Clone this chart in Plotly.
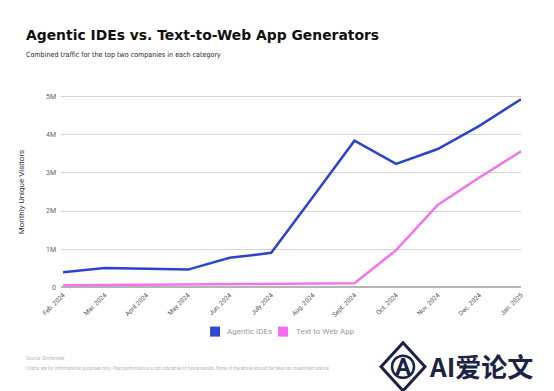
import plotly.graph_objects as go

months = ["Feb. 2024", "Mar. 2024", "April 2024", "May 2024", "Jun. 2024", "July 2024",
          "Aug. 2024", "Sept. 2024", "Oct. 2024", "Nov. 2024", "Dec. 2024", "Jan. 2025"]
agentic_ides = [0.39e6, 0.50e6, 0.48e6, 0.46e6, 0.77e6, 0.90e6,
                2.37e6, 3.85e6, 3.24e6, 3.63e6, 4.24e6, 4.94e6]
text_to_web = [0.05e6, 0.06e6, 0.06e6, 0.07e6, 0.08e6, 0.08e6,
               0.09e6, 0.10e6, 0.97e6, 2.16e6, 2.88e6, 3.57e6]
y_tickvals = [0, 1e6, 2e6, 3e6, 4e6, 5e6]
y_ticktext = ["0", "1M", "2M", "3M", "4M", "5M"]
series_names = ["Agentic IDEs", "Text to Web App"]

BLUE = "#2c44cc"
PINK = "#f075ec"
LEG_BLUE = "#3048d8"
LEG_PINK = "#f56cf0"
NAVY = "#1b2345"
W, H = 554, 391
L, R, T, B = 52.9, 513.0, 87.4, 280.6


def px(x):
    return (x - L) / (R - L)


def py(y):
    return (B - y) / (B - T)


fig = go.Figure()
fig.add_trace(go.Scatter(x=months, y=agentic_ides, mode="lines", name=series_names[0],
                         line=dict(color=BLUE, width=2.5)))
fig.add_trace(go.Scatter(x=months, y=text_to_web, mode="lines", name=series_names[1],
                         line=dict(color=PINK, width=2.5)))

fig.update_layout(
    width=W, height=H,
    margin=dict(l=L, r=W - R, t=T, b=H - B, pad=0),
    paper_bgcolor="white", plot_bgcolor="white",
    font=dict(family="Roboto", color="#555"),
    showlegend=False,
    xaxis=dict(type="category", range=[-0.05, 11.0], showgrid=False,
               tickangle=-45, tickfont=dict(size=6.5, color="#555"),
               ticks="", showline=False, zeroline=False),
    yaxis=dict(range=[-0.05e6, 5.05e6], tickvals=y_tickvals, ticktext=y_ticktext,
               showgrid=True, gridcolor="#d4d4d4", gridwidth=1, zeroline=True,
               zerolinecolor="#b5b5b5", zerolinewidth=1.5,
               tickfont=dict(size=7, color="#666"), ticks="", ticklabelstandoff=4,
               title=dict(text="Monthly Unique Visitors", font=dict(size=8, color="#333"),
                          standoff=20)),
)

anns = [
    dict(x=px(16), y=py(28), text="<b>Agentic IDEs vs. Text-to-Web App Generators</b>",
         font=dict(family="DejaVu Sans", size=13.9, color="#111"), xanchor="left"),
    dict(x=px(16), y=py(47), text="Combined traffic for the top two companies in each category",
         font=dict(family="Liberation Sans Narrow, DejaVu Sans Condensed, Roboto Condensed, Roboto",
                   size=7.1, color="#222"), xanchor="left"),
    dict(x=px(16), y=py(350), text="Source: Similarweb",
         font=dict(family="Roboto", size=4.5, color="#b5b5b5"), xanchor="left"),
    dict(x=px(16), y=py(359),
         text="Charts are for informational purposes only. Past performance is not indicative of future results. None of the above should be taken as investment advice.",
         font=dict(family="Roboto", size=4.5, color="#b5b5b5"), xanchor="left"),
    dict(x=px(419), y=py(357), text="<b>AI爱论文</b>",
         font=dict(family="Noto Sans CJK SC", size=26, color=NAVY), xanchor="left"),
    dict(x=px(395), y=py(358), text="<b>A</b>",
         font=dict(family="Roboto", size=24, color=NAVY), xanchor="center"),
    # legend labels
    dict(x=px(217), y=py(323), text=series_names[0],
         font=dict(family="Roboto", size=8, color="#9a9a9a"), xanchor="left"),
    dict(x=px(286), y=py(323), text=series_names[1],
         font=dict(family="Roboto", size=8, color="#9a9a9a"), xanchor="left"),
]
for a in anns:
    a.update(xref="paper", yref="paper", showarrow=False, yanchor="middle")
    fig.add_annotation(**a)

# legend swatches
for x0, col in [(202, LEG_BLUE), (270, LEG_PINK)]:
    fig.add_shape(type="rect", xref="paper", yref="paper",
                  x0=px(x0), x1=px(x0 + 10), y0=py(318), y1=py(328),
                  fillcolor=col, line=dict(width=0))

# logo diamond outline + ring
fig.add_shape(type="path", xref="paper", yref="paper",
              path=f"M {px(373)} {py(358)} L {px(395)} {py(334)} L {px(417)} {py(358)} L {px(395)} {py(382)} Z",
              line=dict(color=NAVY, width=3), fillcolor="rgba(0,0,0,0)")
fig.add_shape(type="circle", xref="paper", yref="paper",
              x0=px(384), x1=px(406), y0=py(347), y1=py(369),
              line=dict(color=NAVY, width=2.5), fillcolor="rgba(0,0,0,0)")

fig.write_html("out.html")
